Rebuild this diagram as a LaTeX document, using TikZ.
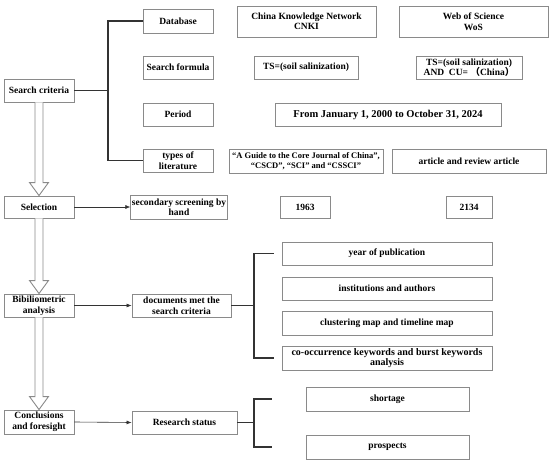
\documentclass[tikz,border=0pt]{standalone}
\usepackage{fontspec}
\setmainfont{Liberation Serif}
\newfontfamily\cjk{Noto Sans CJK SC}
\usetikzlibrary{calc,arrows.meta}
\definecolor{boxgray}{HTML}{8A8A8A}
\definecolor{linedark}{HTML}{333333}
\tikzset{
  box/.style={draw=boxgray, line width=0.9pt, fill=white, inner sep=1pt, align=center,
    font=\fontsize{9.5}{10.5}\selectfont\bfseries, text=black},
  brk/.style={draw=linedark, line width=1.3pt},
  conn/.style={draw=linedark, line width=0.6pt, -{Latex[length=5pt,width=4pt]}},
  hollow/.style={draw=boxgray, line width=0.9pt, fill=white, line join=miter},
}
\newcommand{\bx}[5]{\node[box, minimum width=#3pt, minimum height=#4pt] (#1) at #2 {#5};}
\begin{document}
\begin{tikzpicture}[x=1pt,y=-1pt]
\useasboundingbox (0,0) rectangle (550,463);
% left column
\bx{sc}{(39,90.5)}{70}{23}{Search criteria}
\bx{sel}{(39,207)}{70}{22}{Selection}
\bx{bib}{(39,305.5)}{70}{23}{Bibiliometric\\analysis}
\bx{con}{(39,422)}{70}{24}{Conclusions\\and foresight}
% search criteria items
\bx{db}{(178,21)}{70}{24}{Database}
\bx{sf}{(178,67.5)}{70}{23}{Search formula}
\bx{per}{(178,114.5)}{70}{23}{Period}
\bx{tol}{(178,160.5)}{70}{23}{types of\\literature}
\bx{cnki}{(306.5,21.5)}{139}{31}{China Knowledge Network\\CNKI}
\bx{wos}{(473.5,21.5)}{149}{31}{Web of Science\\WoS}
\bx{ts1}{(306,67.5)}{104}{23}{TS=(soil salinization)}
\bx{ts2}{(469,67.5)}{106}{23}{TS=(soil salinization)\\AND~~CU=~{\cjk（}China{\cjk）}}
\node[box, minimum width=226pt, minimum height=23pt, font=\fontsize{10.5}{11}\selectfont\bfseries] (pval) at (388,114.5) {From January 1, 2000 to October 31, 2024};
\node[box, minimum width=154pt, minimum height=24pt, font=\fontsize{8.5}{9.5}\selectfont\bfseries] (t1) at (306,161) {“A Guide to the Core Journal of China”,\\“CSCD”, “SCI” and “CSSCI”};
\bx{t2}{(469,161)}{154}{24}{article and review article}
% selection
\bx{ssh}{(179,207)}{94}{24}{secondary screening by\\hand}
\bx{n1963}{(305,207)}{50}{22}{1963}
\bx{n2134}{(469,207)}{46}{22}{2134}
% bibliometric
\bx{doc}{(181.5,305.5)}{99}{23}{documents met the\\search criteria}
\bx{yp}{(387,253.5)}{210}{23}{year of publication}
\bx{ia}{(387,288.5)}{210}{23}{institutions and authors}
\bx{cm}{(387,323)}{210}{24}{clustering map and timeline map}
\node[box, minimum width=210pt, minimum height=24pt, font=\fontsize{10}{9.5}\selectfont\bfseries] (co) at (387,358) {co-occurrence keywords and burst keywords\\analysis};
% conclusions
\bx{rs}{(184.5,422.5)}{105}{23}{Research status}
\bx{sh}{(387.5,399)}{163}{24}{shortage}
\bx{pr}{(387.5,447)}{163}{24}{prospects}
% brackets
\coordinate (b1) at (108,90.5);
\draw[brk] (sc.east) -- (b1);
\draw[brk] (db.west) -| (b1) |- (tol.west);
\coordinate (b2) at (254,305.5);
\coordinate (y1) at ($(yp.west)+(-8,0)$);
\coordinate (y2) at ($(co.west)+(-8,0)$);
\draw[brk] (doc.east) -- (b2);
\draw[brk] (y1) -| (b2) |- (y2);
\coordinate (b3) at (254,422.5);
\coordinate (s1) at ($(sh.west)+(-34,0)$);
\coordinate (s2) at ($(pr.west)+(-34,0)$);
\draw[brk] (rs.east) -- (b3);
\draw[brk] (s1) -| (b3) |- (s2);
% arrows
\draw[conn] (sel.east) -- (ssh.west);
\draw[conn] (bib.east) -- (doc.west);
\draw[conn] (con.east) -- (rs.west);
% hollow arrows
\foreach \a/\b in {sc/sel, sel/bib, bib/con}{
  \draw[hollow] ($(\a.south)+(-4,0)$) -- ($(\b.north)+(-4,-13)$) -- ($(\b.north)+(-9.5,-13)$)
    -- (\b.north) -- ($(\b.north)+(9.5,-13)$) -- ($(\b.north)+(4,-13)$) -- ($(\a.south)+(4,0)$);
}
\end{tikzpicture}
\end{document}
